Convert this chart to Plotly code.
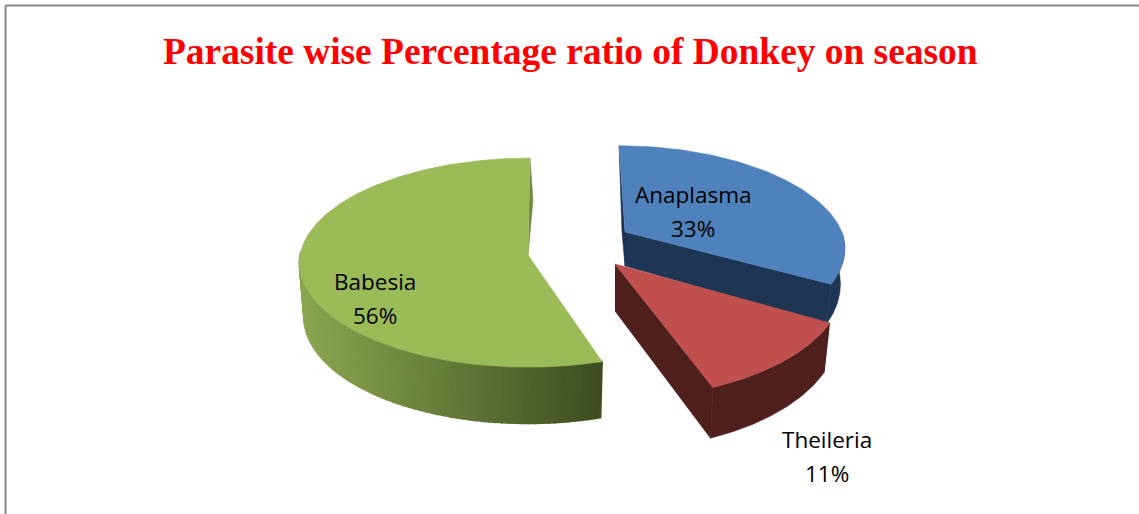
import numpy as np
import plotly.graph_objects as go

TITLE = "Parasite wise Percentage ratio of Donkey on season"
categories = ["Anaplasma", "Theileria", "Babesia"]
values = [33, 11, 56]
top_colors = ["#4F81BD", "#C0504D", "#9BBB59"]
side_colors = ["#1F3554", "#4E1F1C", None]

# projection of each exploded wedge: apex, radii, perspective, depth, bottom-face scale, far-side lean
view = {
    "Anaplasma": dict(x0=625, y0=232, a=217, b=100, p=0.16, d=34, sx=0.98, sy=1.10, shift=0, lean=0.069),
    "Theileria": dict(x0=615, y0=264, a=226.5, b=113, p=0.16, d=47, sx=0.975, sy=1.03, shift=0, lean=0),
    "Babesia": dict(x0=528, y0=255, a=228, b=104, p=0.073, d=54, sx=0.98, sy=1.02, shift=4.0, lean=-0.02),
}
label_pos = {"Anaplasma": (693, 194), "Theileria": (827, 439), "Babesia": (375, 281)}

edges = np.concatenate([[0], np.cumsum(values)]) / sum(values) * 360


def proj(theta, v, bottom=False):
    t = np.radians(theta)
    u, w = np.sin(t), np.cos(t)
    s = 1 + v["p"] * w
    sx, sy, d = (v["sx"], v["sy"], v["d"]) if bottom else (1, 1, 0)
    dy = sy * v["b"] * w / s
    return v["x0"] + sx * v["a"] * u / s - v["lean"] * np.maximum(dy, 0), v["y0"] + d - dy


def lerp_hex(c1, c2, f):
    a = [int(c1[i:i + 2], 16) for i in (1, 3, 5)]
    b = [int(c2[i:i + 2], 16) for i in (1, 3, 5)]
    return "rgb(%d,%d,%d)" % tuple(round(p + (q - p) * f) for p, q in zip(a, b))


fig = go.Figure()


def poly(xs, ys, color, name=None, line=0.6):
    fig.add_trace(go.Scatter(x=list(xs), y=list(ys), mode="lines", fill="toself",
                             fillcolor=color, line=dict(color=color, width=line),
                             hoverinfo="skip" if name is None else "text",
                             text=name, showlegend=False))


def arc(t0, t1, v, bottom=False, n=90):
    th = np.linspace(t0, t1, n)
    return proj(th, v, bottom)


# ---- Babesia ----
v = view["Babesia"]
t0, t1 = edges[2] + v["shift"], edges[3]
ths = np.linspace(t0, 272, 70)
xleft, xright = 299.0, 603.0
for a_, b_ in zip(ths[:-1], ths[1:]):
    xa, ya = proj(np.array([a_, b_]), v)
    xb, yb = proj(np.array([b_, a_]), v, True)
    f = np.clip((xa.mean() - xleft) / (xright - xleft), 0, 1)
    c = lerp_hex("#8BA651", "#3D4C20", f)
    poly(list(xa) + list(xb) + [xa[0]], list(ya) + list(yb) + [ya[0]], c, line=1.6)
xp, yp = proj(np.array([t1]), v)
poly([xp[0], xp[0] + 3, v["x0"]], [yp[0], yp[0] + 42, v["y0"]], "#708A3F")
x_, y_ = arc(t0, t1, v, n=200)
poly([v["x0"]] + list(x_) + [v["x0"]], [v["y0"]] + list(y_) + [v["y0"]], top_colors[2], categories[2])

# ---- Anaplasma ----
v = view["Anaplasma"]
t0, t1 = edges[0], edges[1]
xt, yt = arc(92, t1, v)
xb, yb = arc(92, t1, v, True)
poly(list(xt) + list(xb[::-1]), list(yt) + list(yb[::-1]), side_colors[0])
xe, ye = proj(np.array([t1]), v)
xf, yf = proj(np.array([t1]), v, True)
poly([v["x0"], xe[0], xf[0], v["x0"]], [v["y0"], ye[0], yf[0], v["y0"] + v["d"]], side_colors[0])
xs, ys = proj(np.array([t0]), v)
poly([xs[0], v["x0"] - 3, v["x0"], v["x0"]], [ys[0], v["y0"], v["y0"] + v["d"], v["y0"]], "#1C3150")
x_, y_ = arc(t0, t1, v)
poly([v["x0"]] + list(x_) + [v["x0"]], [v["y0"]] + list(y_) + [v["y0"]], top_colors[0], categories[0])

# ---- Theileria ----
v = view["Theileria"]
t0, t1 = edges[1], edges[2]
xe, ye = proj(np.array([t1]), v)
xf, yf = proj(np.array([t1]), v, True)
poly([v["x0"], xe[0], xf[0], v["x0"]], [v["y0"], ye[0], yf[0], v["y0"] + v["d"]], side_colors[1])
xt, yt = arc(t0, t1, v)
xb, yb = arc(t0, t1, v, True)
poly(list(xt) + list(xb[::-1]), list(yt) + list(yb[::-1]), side_colors[1])
x_, y_ = arc(t0, t1, v)
poly([v["x0"]] + list(x_) + [v["x0"]], [v["y0"]] + list(y_) + [v["y0"]], top_colors[1], categories[1])

annotations = [dict(x=570, y=51, xref="x", yref="y", text="<b>%s</b>" % TITLE, showarrow=False,
                    font=dict(family="Liberation Serif", size=37.4, color="#FF0000"))]
for name, val in zip(categories, values):
    lx, ly = label_pos[name]
    annotations.append(dict(x=lx, y=ly, xref="x", yref="y", text=name, showarrow=False,
                            font=dict(family="Open Sans", size=22.5, color="#000000")))
    annotations.append(dict(x=lx, y=ly + 34, xref="x", yref="y", text="%d%%" % val, showarrow=False,
                            font=dict(family="Open Sans", size=22.5, color="#000000")))

fig.update_layout(
    width=1139, height=514, margin=dict(l=0, r=0, t=0, b=0),
    paper_bgcolor="white", plot_bgcolor="white", showlegend=False,
    xaxis=dict(range=[0, 1139], visible=False, fixedrange=True),
    yaxis=dict(range=[514, 0], visible=False, fixedrange=True),
    annotations=annotations,
    shapes=[
        dict(type="line", x0=5.5, x1=1139, y0=5.5, y1=5.5, xref="x", yref="y", line=dict(color="#868686", width=2)),
        dict(type="line", x0=5.5, x1=5.5, y0=5.5, y1=514, xref="x", yref="y", line=dict(color="#868686", width=2)),
    ],
)
fig.write_html("out.html", config={"displayModeBar": False},
               post_script="document.body.style.margin='0';document.body.style.overflow='hidden';")
